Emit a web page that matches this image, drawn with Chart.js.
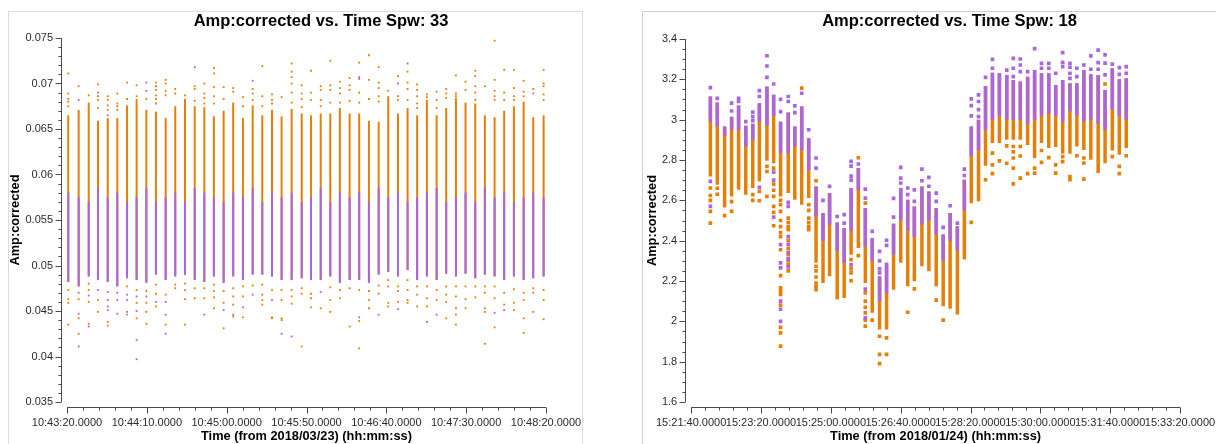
<!DOCTYPE html>
<html><head><meta charset="utf-8">
<script src="https://cdn.jsdelivr.net/npm/chart.js@4.4.1/dist/chart.umd.min.js"></script>
<style>
html,body{margin:0;padding:0;background:#fff;width:1224px;height:444px;overflow:hidden;position:relative;}
.frame{position:absolute;border:1px solid #dcdcdc;}
canvas{position:absolute;}
</style></head><body>
<div class="frame" style="left:8px;top:11px;width:573px;height:460px;"></div>
<div class="frame" style="left:642px;top:11px;width:573px;height:460px;border-right:none;border-color:#cfcfcf;"></div>
<canvas id="c1" width="626" height="433" style="left:8px;top:11px"></canvas>
<canvas id="c2" width="615" height="433" style="left:642px;top:11px"></canvas>
<script>
// ---------------- LEFT PANEL (Spw 33) ----------------
const leftTitle = "Amp:corrected vs. Time Spw: 33";
const leftXTitle = "Time (from 2018/03/23) (hh:mm:ss)";
const leftYTitle = "Amp:corrected";
// seconds since midnight
const leftTimes = [38600.8,38607.3,38613.6,38619.4,38625.5,38631.5,38637.6,38643.6,38649.7,38655.7,
  38661.8,38667.8,38673.9,38680.0,38686.0,38692.0,38698.1,38704.1,38710.2,38716.3,
  38722.3,38728.4,38734.4,38740.7,38747.0,38752.8,38758.9,38764.9,38770.9,38777.0,
  38783.0,38789.1,38795.2,38801.2,38807.3,38813.3,38819.3,38825.4,38831.5,38837.5,
  38843.6,38849.6,38855.7,38861.7,38867.8,38873.8,38879.9,38886.0,38892.0,38898.5];
const leftHi = [0.0665,0.0671,0.0679,0.0659,0.0662,0.0662,0.0676,0.0681,0.0671,0.0669,
  0.0662,0.0675,0.0683,0.0675,0.0674,0.0664,0.0670,0.0679,0.0662,0.0676,
  0.0665,0.0671,0.0664,0.0672,0.0667,0.0665,0.0667,0.0667,0.0673,0.0667,
  0.0667,0.0659,0.0658,0.0686,0.0667,0.0673,0.0665,0.0682,0.0665,0.0673,
  0.0684,0.0679,0.0678,0.0665,0.0663,0.0670,0.0675,0.0680,0.0663,0.0665];
const leftLo = [0.0482,0.0477,0.0488,0.0484,0.0482,0.0477,0.0486,0.0484,0.0481,0.0490,
  0.0484,0.0488,0.0490,0.0484,0.0482,0.0488,0.0481,0.0488,0.0484,0.0490,
  0.0490,0.0488,0.0484,0.0484,0.0486,0.0484,0.0484,0.0488,0.0481,0.0484,
  0.0484,0.0481,0.0490,0.0493,0.0488,0.0495,0.0484,0.0488,0.0484,0.0491,
  0.0488,0.0491,0.0486,0.0490,0.0488,0.0484,0.0488,0.0484,0.0486,0.0488];
const leftPurpleTop = [0.0580,0.0575,0.0570,0.0585,0.0575,0.0580,0.0570,0.0575,0.0585,0.0570,
  0.0575,0.0580,0.0570,0.0585,0.0580,0.0575,0.0570,0.0580,0.0575,0.0585,
  0.0570,0.0580,0.0575,0.0580,0.0570,0.0575,0.0585,0.0570,0.0580,0.0575,
  0.0580,0.0570,0.0585,0.0575,0.0580,0.0570,0.0575,0.0580,0.0585,0.0570,
  0.0575,0.0580,0.0570,0.0585,0.0575,0.0580,0.0570,0.0575,0.0580,0.0575];
const leftOrangeExtra = [
  [0.0711,0.0689,0.0683,0.0680,0.0675,0.0473,0.0463,0.0459,0.0435],
  [0.0697,0.0463,0.0442,0.0425],
  [0.0687,0.0480,0.0473,0.0460,0.0436],
  [0.0699,0.0686,0.0682,0.0673,0.0462,0.0449],
  [0.0686,0.0682,0.0676,0.0671,0.0438,0.0434],
  [0.0689,0.0678,0.0675,0.0671],
  [0.0701,0.0683,0.0477,0.0446],
  [0.0698,0.0686,0.0682,0.0473,0.0459,0.0442],
  [0.0683,0.0472,0.0459,0.0449,0.0436],
  [0.0701,0.0697,0.0693,0.0687,0.0683,0.0678,0.0479,0.0469,0.0455],
  [0.0704,0.0700,0.0692,0.0687,0.0468,0.0435],
  [0.0694,0.0689,0.0479,0.0475],
  [0.0687,0.0480,0.0473,0.0463,0.0435],
  [0.0697,0.0694,0.0681,0.0475,0.0464],
  [0.0700,0.0689,0.0684,0.0678,0.0475,0.0464],
  [0.0717,0.0711,0.0696,0.0686,0.0678,0.0479,0.0472,0.0465,0.0453],
  [0.0696,0.0683,0.0472,0.0459,0.0431],
  [0.0695,0.0691,0.0475,0.0466,0.0457,0.0444],
  [0.0685,0.0675,0.0477,0.0466,0.0443],
  [0.0694,0.0689,0.0682,0.0478],
  [0.0719,0.0686,0.0675,0.0479,0.0468,0.0462,0.0457],
  [0.0688,0.0682,0.0678,0.0473,0.0443,0.0442],
  [0.0685,0.0473,0.0462,0.0442,0.0440],
  [0.0722,0.0713,0.0707,0.0700,0.0690,0.0679,0.0473,0.0466,0.0458],
  [0.0698,0.0689,0.0683,0.0674,0.0475,0.0469,0.0411],
  [0.0714,0.0690,0.0682,0.0469,0.0464,0.0454],
  [0.0697,0.0693,0.0682,0.0675,0.0453],
  [0.0725,0.0698,0.0693,0.0679,0.0476,0.0462,0.0449],
  [0.0702,0.0695,0.0689,0.0679,0.0473,0.0464],
  [0.0706,0.0698,0.0693,0.0681,0.0475,0.0433],
  [0.0723,0.0705,0.0690,0.0679,0.0473,0.0439,0.0409],
  [0.0731,0.0704,0.0683,0.0472,0.0462,0.0453],
  [0.0718,0.0701,0.0695,0.0686,0.0680,0.0478,0.0469],
  [0.0692,0.0484,0.0477,0.0459,0.0455],
  [0.0708,0.0686,0.0682,0.0477,0.0472,0.0460],
  [0.0713,0.0701,0.0694,0.0682,0.0484,0.0473,0.0462,0.0459],
  [0.0699,0.0693,0.0686,0.0678,0.0673,0.0477,0.0468,0.0455],
  [0.0688,0.0685,0.0477,0.0464,0.0455],
  [0.0691,0.0682,0.0673,0.0473,0.0462],
  [0.0694,0.0689,0.0684,0.0477,0.0468,0.0460,0.0442],
  [0.0709,0.0689,0.0686,0.0477,0.0466,0.0453,0.0446,0.0435],
  [0.0702,0.0693,0.0477,0.0463,0.0453],
  [0.0714,0.0708,0.0697,0.0690,0.0682,0.0477,0.0465],
  [0.0697,0.0477,0.0470,0.0453,0.0449,0.0414],
  [0.0747,0.0704,0.0692,0.0686,0.0682,0.0477,0.0464,0.0432],
  [0.0715,0.0690,0.0682,0.0470,0.0457],
  [0.0715,0.0695,0.0686,0.0682,0.0474,0.0459,0.0451],
  [0.0703,0.0691,0.0686,0.0470,0.0462,0.0442,0.0426],
  [0.0694,0.0475,0.0470,0.0449],
  [0.0715,0.0700,0.0697,0.0688,0.0682,0.0473,0.0462,0.0441]];
const leftPurpleExtra = [
  [],[0.0682,0.0470,0.0447,0.0411],[0.0467,0.0433],[0.0690,0.0473],[0.0665,0.0471,0.0462,0.0455,0.0451],
  [0.0470,0.0462,0.0447],[0.0468,0.0462,0.0449],[0.0466,0.0450,0.0418,0.0397],[0.0701,0.0692,0.0466],[0.0460],
  [0.0460,0.0446,0.0425],[],[],[0.0718],[0.0446],
  [],[0.0451],[0.0446],[0.0454],[0.0703,0.0468],
  [],[0.0462],[0.0425],[0.0422],[],
  [],[0.0471],[],[],[],
  [0.0707,0.0443],[],[0.0446],[],[0.0700,0.0452],
  [0.0722],[],[0.0438],[0.0446],[],
  [],[],[],[],[0.0448],
  [0.0451],[],[],[0.0689],[]];

// ---------------- RIGHT PANEL (Spw 18) ----------------
const rightTitle = "Amp:corrected vs. Time Spw: 18";
const rightXTitle = "Time (from 2018/01/24) (hh:mm:ss)";
const rightYTitle = "Amp:corrected";
const rightTimes = [55327.5,55337.4,55347.9,55357.9,55367.9,55378.2,55388.2,55397.7,55408.5,55418.1,
  55428.0,55439.0,55448.4,55458.3,55468.3,55478.8,55488.8,55498.2,55509.1,55519.1,
  55529.0,55539.4,55549.4,55559.3,55569.8,55579.8,55589.8,55600.1,55610.1,55619.6,
  55630.4,55640.4,55650.9,55660.9,55670.8,55681.2,55691.2,55701.1,55711.5,55721.5,
  55731.4,55741.4,55751.9,55761.3,55771.3,55781.8,55791.8,55801.7,55812.1,55822.0,
  55832.0,55842.4,55852.3,55862.3,55872.3,55882.8,55892.7,55903.1,55913.1,55923.0];
const rightHi = [3.115,3.085,2.966,3.015,3.07,2.97,2.98,3.082,3.164,3.123,
  2.99,3.035,2.966,3.065,2.908,2.669,2.537,2.636,2.49,2.463,
  2.661,2.76,2.562,2.413,2.223,2.29,2.484,2.661,2.603,2.57,
  2.669,2.644,2.562,2.43,2.537,2.471,2.702,2.966,2.999,3.167,
  3.233,3.23,3.222,3.197,3.189,3.213,3.246,3.23,3.23,3.172,
  3.197,3.18,3.18,3.246,3.225,3.222,3.147,3.255,3.2,3.205];
const rightMid = [2.99,2.966,2.92,2.95,2.95,2.867,2.90,2.99,2.97,3.02,
  2.834,2.834,2.867,2.85,2.75,2.52,2.40,2.48,2.35,2.29,
  2.45,2.65,2.37,2.30,2.10,2.14,2.33,2.50,2.45,2.42,
  2.48,2.50,2.43,2.30,2.40,2.35,2.55,2.82,2.85,2.95,
  3.0,3.02,3.0,3.0,3.0,2.98,3.0,3.02,3.03,3.02,
  2.99,3.04,3.02,2.99,3.0,2.98,2.95,3.05,3.02,3.0];
const rightLo = [2.718,2.677,2.565,2.619,2.652,2.628,2.661,2.694,2.796,2.784,
  2.636,2.636,2.603,2.578,2.611,2.29,2.19,2.223,2.108,2.116,
  2.33,2.364,2.19,2.042,1.959,1.96,2.157,2.29,2.174,2.199,
  2.273,2.248,2.174,2.075,2.062,2.034,2.306,2.586,2.595,2.771,
  2.884,2.884,2.9,2.9,2.9,2.875,2.81,2.884,2.859,2.864,
  2.831,2.831,2.867,2.85,2.801,2.735,2.784,2.847,2.826,2.859];
const rightOrangeExtra = [
  [2.661,2.624,2.600,2.545,2.487],[2.66,2.63],[2.524],[2.594,2.545],[],
  [],[2.628,2.60],[2.644,2.598],[2.768,2.743,2.62],[2.76,2.68,2.65,2.62,2.57,2.54,2.474],
  [2.628,2.60,2.578,2.545,2.50,2.47,2.44,2.42,2.355,2.227,2.166,2.15,2.133,2.08,1.97,1.943,1.877],
  [2.512,2.49,2.47,2.455,2.40,2.36,2.33,2.30,2.28,2.25],
  [],[3.156],[2.578,2.55,2.512,2.49,2.471,2.455],
  [2.697,2.273,2.25,2.22,2.19,2.174,2.157],[],[],[],[],
  [2.306,2.26,2.24,2.202],[2.811,2.326],[2.586,2.141,2.10,2.07,2.042,2.006,1.976],[2.006],[1.926,1.836,1.79],
  [1.918,1.836],[],[],[2.045],[2.161],
  [],[],[2.105],[2.006],[],
  [],[],[2.491],[],[2.702],
  [2.834,2.776,2.732],[2.796],[2.87,2.784],[2.867,2.84,2.81,2.76,2.682],[2.867,2.82,2.71],
  [2.732],[2.76,2.735],[2.847,2.788],[2.812],[2.776,2.735],
  [2.817,2.792],[2.718,2.702],[2.821],[2.81,2.785,2.705],[],
  [],[3.177],[2.817],[2.768,2.732],[2.821]];
const rightPurpleExtra = [
  [3.159,2.694,2.57],[3.106],[],[3.082,3.043],[3.106,3.09],
  [2.99],[3.037,3.015,2.995],[3.144,3.115,2.664],[3.317,3.266,3.21],[3.177,2.74,2.70,2.517],
  [3.101,3.04,2.38,2.29,2.265,2.10,2.06,2.0],
  [3.115,3.09,2.59,2.57,2.42,2.38,2.34,2.31,2.27],
  [3.068,3.035],[3.131],[2.95],
  [2.81,2.76],[2.6],[2.669],[2.52],[2.529,2.487],
  [2.793,2.77,2.72,2.70,2.28],[2.78],[2.656,2.611,2.16,2.017],[2.446],[2.347,2.30,2.26,2.24],
  [2.402,2.377],[2.61,2.517],[2.763,2.71,2.686],[2.661,2.628],[2.652,2.595],
  [2.755,2.697],[2.714,2.67],[2.636,2.595],[2.466],[2.573],
  [2.487],[2.755,2.723],[3.103,3.07,3.019],[3.123,3.09,3.05,3.015],[3.21],
  [3.299,3.255],[],[3.246],[3.304,3.255,3.213],[3.301,3.271,3.238],
  [3.238],[3.352],[3.279,3.255],[3.279,3.255],[3.23],
  [3.332,3.284,3.263],[3.279,3.26,3.23,3.205],[3.255,3.213],[3.271],[3.316,3.25],
  [3.345,3.283,3.25],[3.321,3.28,3.222],[3.275],[3.258,3.225],[3.263,3.23]];

// ---------------- styling ----------------
const ORANGE = '#e57f08';
const PURPLE = '#aa66de';
const FONT = '"Liberation Sans", Arial, sans-serif';

function pad2(n){ return (n<10?'0':'')+n; }
function fmtTime(v){
  const s = Math.round(v);
  return pad2(Math.floor(s/3600))+':'+pad2(Math.floor((s%3600)/60))+':'+pad2(s%60)+'.0000';
}
function flatten(times, lists){
  const out = [];
  lists.forEach((arr,i)=>arr.forEach(v=>out.push({x:times[i], y:v})));
  return out;
}

const axesPlugin = {
  id: 'axesPlugin',
  afterDraw(chart, args, o) {
    const {ctx, chartArea:a, scales:{x, y}} = chart;
    const ax = Math.round(a.left - o.gapX) + 0.5;
    const ay = Math.round(a.bottom + o.gapY) + 0.5;
    ctx.save();
    ctx.strokeStyle = '#4a4a4a';
    ctx.lineWidth = 1;
    ctx.beginPath();
    ctx.moveTo(ax, y.getPixelForValue(y.max)); ctx.lineTo(ax, y.getPixelForValue(y.min));
    ctx.moveTo(x.getPixelForValue(x.min), ay); ctx.lineTo(x.getPixelForValue(x.max), ay);
    const ny = Math.round((y.max - y.min) / o.yMinor);
    for (let i = 0; i <= ny; i++) {
      const py = Math.round(y.getPixelForValue(y.min + i * o.yMinor)) + 0.5;
      const len = (i % o.yRatio === 0) ? 6 : 3;
      ctx.moveTo(ax - len, py); ctx.lineTo(ax, py);
    }
    const nx = Math.round((x.max - x.min) / o.xMinor);
    for (let i = 0; i <= nx; i++) {
      const px = Math.round(x.getPixelForValue(x.min + i * o.xMinor)) + 0.5;
      const len = (i % o.xRatio === 0) ? 6 : 3;
      ctx.moveTo(px, ay); ctx.lineTo(px, ay + len);
    }
    ctx.stroke();
    ctx.restore();
  }
};

function build(id, c) {
  const datasets = [
    { type:'bar', order:5, data: c.times.map((t,i)=>({x:t, y:[c.lo[i], c.hi[i]]})),
      backgroundColor: c.baseColor, barThickness: c.barW, grouped:false, borderWidth:0, inflateAmount:0 },
    { type:'bar', order:4, data: c.times.map((t,i)=>({x:t, y:[c.segLo[i], c.segHi[i]]})),
      backgroundColor: c.segColor, barThickness: c.segW, grouped:false, borderWidth:0, inflateAmount:0 },
    { type:'scatter', order:3, data: flatten(c.times, c.orangeExtra), pointStyle:'rect',
      pointRadius:c.ptR, pointBorderWidth:0, backgroundColor:ORANGE, borderColor:ORANGE },
    { type:'scatter', order:2, data: flatten(c.times, c.purpleExtra), pointStyle:'rect',
      pointRadius:c.ptR, pointBorderWidth:0, backgroundColor:PURPLE, borderColor:PURPLE }
  ];
  return new Chart(document.getElementById(id), {
    type: 'scatter',
    data: { datasets },
    plugins: [axesPlugin],
    options: {
      responsive:false, animation:false, devicePixelRatio:1,
      layout:{padding:0},
      plugins:{
        legend:{display:false}, tooltip:{enabled:false},
        title:{display:true, text:c.title, color:'#000',
          font:{family:FONT, size:16.5, weight:'bold', lineHeight:1},
          padding:{top:c.titleTop, bottom:c.titleBottom}},
        axesPlugin:{gapX:6, gapY:5, xMinor:c.xMinor, xRatio:c.xRatio, yMinor:c.yMinor, yRatio:c.yRatio}
      },
      scales:{
        x:{type:'linear', min:c.xMin, max:c.xMax, offset:false,
          grid:{display:false, drawTicks:false}, border:{display:false},
          ticks:{stepSize:c.xStep, autoSkip:false, maxRotation:0, minRotation:0, padding:14,
            color:'#2a2a2a', font:{family:FONT, size:11}, callback:fmtTime},
          title:{display:true, text:c.xTitle, color:'#000',
            font:{family:FONT, size:12.8, weight:'bold', lineHeight:1.2}, padding:{top:0, bottom:0}},
          afterFit(s){ s.height = 42; }},
        y:{type:'linear', min:c.yMin, max:c.yMax,
          grid:{display:false, drawTicks:false}, border:{display:false},
          ticks:{stepSize:c.yStep, padding:14, color:'#2a2a2a', font:{family:FONT, size:11},
            callback:(v)=>String(parseFloat(Number(v).toFixed(4)))},
          title:{display:true, text:c.yTitle, color:'#000',
            font:{family:FONT, size:12.8, weight:'bold', lineHeight:1.2}, padding:{top:0, bottom:0}},
          afterFit(s){ s.width = c.yWidth; }},
        // empty spacer on the right so the title centres like the reference
        spacer:{type:'linear', position:'right', display:true,
          grid:{display:false, drawTicks:false}, border:{display:false},
          ticks:{display:false}, afterFit(s){ s.width = c.rightSpace; }}
      }
    }
  });
}

build('c1', {
  times:leftTimes, lo:leftLo, hi:leftHi, segLo:leftLo, segHi:leftPurpleTop,
  baseColor:ORANGE, segColor:PURPLE, barW:2, segW:2, ptR:1.3,
  orangeExtra:leftOrangeExtra, purpleExtra:leftPurpleExtra,
  title:leftTitle, xTitle:leftXTitle, yTitle:leftYTitle,
  xMin:38600, xMax:38900, xStep:50, xMinor:10, xRatio:5,
  yMin:0.035, yMax:0.075, yStep:0.005, yMinor:0.001, yRatio:5,
  rightSpace:88, yWidth:59, titleTop:2, titleBottom:8.5
});
build('c2', {
  times:rightTimes, lo:rightLo, hi:rightHi, segLo:rightMid, segHi:rightHi,
  baseColor:ORANGE, segColor:PURPLE, barW:3.5, segW:3.5, ptR:2.6,
  orangeExtra:rightOrangeExtra, purpleExtra:rightPurpleExtra,
  title:rightTitle, xTitle:rightXTitle, yTitle:rightYTitle,
  xMin:55300, xMax:56000, xStep:100, xMinor:20, xRatio:5,
  yMin:1.6, yMax:3.4, yStep:0.2, yMinor:0.05, yRatio:4,
  rightSpace:77, yWidth:46, titleTop:2, titleBottom:9.5
});
</script>
</body></html>
